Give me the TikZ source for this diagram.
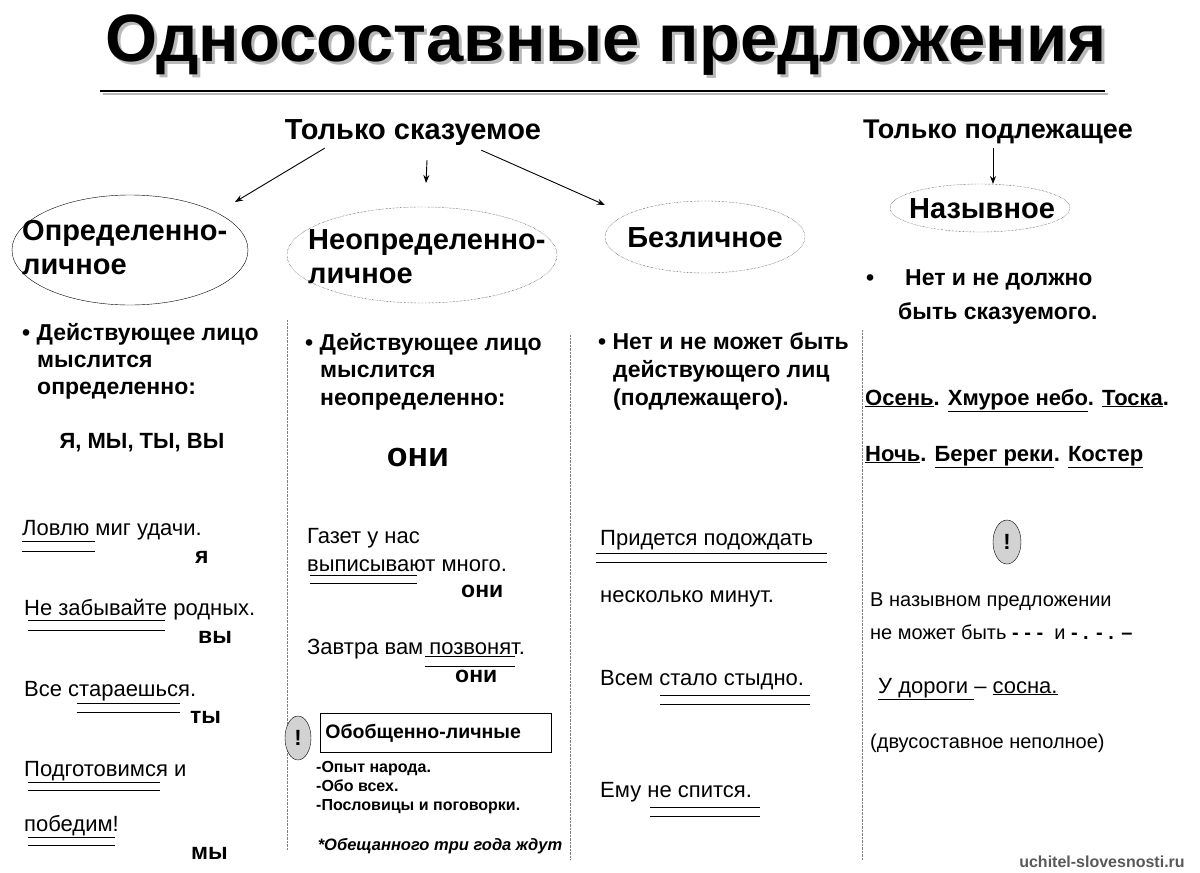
\documentclass[tikz,border=0pt]{standalone}
\usepackage{fontspec}
\setmainfont{Liberation Sans}
\usetikzlibrary{arrows.meta,shapes.geometric}
\newcommand\fsz[1]{\fontsize{#1}{#1}\selectfont}
\begin{document}
\begin{tikzpicture}[x=1pt,y=-1pt,
 t/.style={anchor=base west,inner sep=0pt,font=\fsz{22}},
 tb/.style={t,font=\fsz{23}\bfseries},
 hd/.style={inner sep=0pt,font=\fsz{29}\bfseries},
 eh/.style={inner sep=0pt,align=left,font=\fsz{29}\bfseries},
 dov/.style={draw,densely dotted,thin},
 vl/.style={densely dotted,gray},
 ul/.style={line width=0.9pt},
 ar/.style={-{Stealth[length=8pt]},line width=0.9pt},
 ex/.style={draw,fill=gray!35,inner sep=0pt,font=\fsz{22}\bfseries}]
\useasboundingbox[fill=white] (0,0) rectangle (1200,873);
% title
\node[inner sep=0pt,gray!55,font=\fsz{67}\bfseries] at (609,48) {Односоставные предложения};
\node[inner sep=0pt,font=\fsz{67}\bfseries] (title) at (606,45) {Односоставные предложения};
\draw[line width=2pt,gray!55] (103,94) -- (1108,94);
\draw[line width=2pt] (100,91) -- (1105,91);
% headers
\node[hd] (pred) at (413,133) {Только сказуемое};
\node[hd,font=\fsz{27}\bfseries] (subj) at (998,132) {Только подлежащее};
% ellipses
\draw (130,250) ellipse [x radius=118,y radius=55];
\node[eh,anchor=west] (e1) at (22,248) {Определенно-\\[5pt]личное};
\draw[dov] (422,255) ellipse [x radius=135,y radius=48];
\node[eh,anchor=west] (e2) at (308,257) {Неопределенно-\\[5pt]личное};
\draw[dov] (705,237) ellipse [x radius=100,y radius=36];
\node[eh] (e3) at (705,238) {Безличное};
\draw[dov] (980,208) ellipse [x radius=90,y radius=24];
\node[eh] (e4) at (982,209) {Назывное};
\coordinate (a1) at (235,202); \coordinate (a2) at (426,183); \coordinate (a3) at (605,205); \coordinate (a4) at (993,184);
\draw[ar] (pred.south west)++(40,2) -- (a1);
\draw[ar] (pred.south)++(14,14) -- (a2);
\draw[ar] (pred.south east)++(-60,4) -- (a3);
\draw[ar] (subj.south)++(-5,4) -- (a4);
% verticals
\draw[vl] (287,320) -- (287,850);
\draw[vl] (570,335) -- (570,860);
\draw[vl] (862,330) -- (862,860);
% column 1
\node[tb] at (22,340) {• Действующее лицо};
\node[tb] at (37,367) {мыслится};
\node[tb] at (37,394) {определенно:};
\node[inner sep=0pt,font=\fsz{22}\bfseries] at (142,443) {Я, МЫ, ТЫ, ВЫ};
\node[t] at (22,535) {Ловлю миг удачи.};
\draw[ul] (22,541)--(95,541) (22,551)--(95,551);
\node[tb] at (195,563) {я};
\node[t] at (24,615) {Не забывайте родных.};
\draw[ul] (28,620)--(165,620) (28,630)--(165,630);
\node[tb] at (198,643) {вы};
\node[t] at (24,696) {Все стараешься.};
\draw[ul] (77,703)--(180,703) (77,712)--(180,712);
\node[tb] at (190,723) {ты};
\node[t] at (24,776) {Подготовимся и};
\draw[ul] (28,782)--(160,782) (28,790)--(160,790);
\node[t] at (24,831) {победим!};
\draw[ul] (28,837)--(115,837) (28,845)--(115,845);
\node[tb] at (191,859) {мы};
% column 2
\node[tb] at (305,350) {• Действующее лицо};
\node[tb] at (320,377) {мыслится};
\node[tb] at (320,405) {неопределенно:};
\node[inner sep=0pt,font=\fsz{34}\bfseries] at (418,458) {они};
\node[t] at (307,543) {Газет у нас};
\node[t] at (307,571) {выписывают много.};
\draw[ul] (310,575)--(417,575) (310,583)--(417,583);
\node[tb] at (461,597) {они};
\node[t] at (307,654) {Завтра вам позвонят.};
\draw[ul] (425,656)--(515,656) (425,666)--(515,666);
\node[tb] at (455,682) {они};
\node[ex,ellipse,minimum width=26pt,minimum height=44pt] (x1) at (298,738) {!};
\node[draw,line width=0.9pt,anchor=north west,minimum width=231pt,minimum height=39pt,inner sep=4pt,font=\fsz{19.5}\bfseries,text width=221pt] (ob) at (320,713) {Обобщенно-личные};
\node[anchor=base west,inner sep=0pt,font=\fsz{16}\bfseries] at (316,772) {-Опыт народа.};
\node[anchor=base west,inner sep=0pt,font=\fsz{16}\bfseries] at (316,791) {-Обо всех.};
\node[anchor=base west,inner sep=0pt,font=\fsz{16}\bfseries] at (316,810) {-Пословицы и поговорки.};
\node[inner sep=0pt,font=\fsz{16.5}\bfseries\itshape] at (440,846) {*Обещанного три года ждут};
% column 3
\node[tb] at (598,349) {• Нет и не может быть};
\node[tb] at (613,377) {действующего лиц};
\node[tb] at (613,405) {(подлежащего).};
\node[t] at (600,545) {Придется подождать};
\draw[ul] (596,553)--(827,553) (596,562)--(827,562);
\node[t] at (600,602) {несколько минут.};
\node[t] at (600,685) {Всем стало стыдно.};
\draw[ul] (660,695)--(810,695) (660,704)--(810,704);
\node[t] at (600,797) {Ему не спится.};
\draw[ul] (650,807)--(760,807) (650,816)--(760,816);
% column 4
\node[tb] at (866,285) {•};
\node[tb] at (905,285) {Нет и не должно};
\node[tb] at (898,319) {быть сказуемого.};
\node[tb,font=\fsz{22}\bfseries] at (865,405) {\underline{Осень}. \underline{Хмурое небо}. \underline{Тоска}.};
\node[tb,font=\fsz{22}\bfseries] at (865,461) {\underline{Ночь}. \underline{Берег реки}. \underline{Костер}};
\node[ex,ellipse,minimum width=28pt,minimum height=44pt] (x2) at (1007,542) {!};
\node[anchor=base west,inner sep=0pt,font=\fsz{20}] at (870,606) {В назывном предложении};
\node[anchor=base west,inner sep=0pt,font=\fsz{20}] at (870,639) {не может быть \textbf{- - -}\ \ и \textbf{- . - . –}};
\node[t,font=\fsz{22}] at (878,693) {\underline{У дороги }– \underline{сосна.}};
\node[anchor=base west,inner sep=0pt,font=\fsz{20}] at (870,748) {(двусоставное неполное)};
\node[inner sep=0pt,font=\fsz{16}\bfseries,gray!70!black] at (1102,862) {uchitel-slovesnosti.ru};
\end{tikzpicture}
\end{document}
